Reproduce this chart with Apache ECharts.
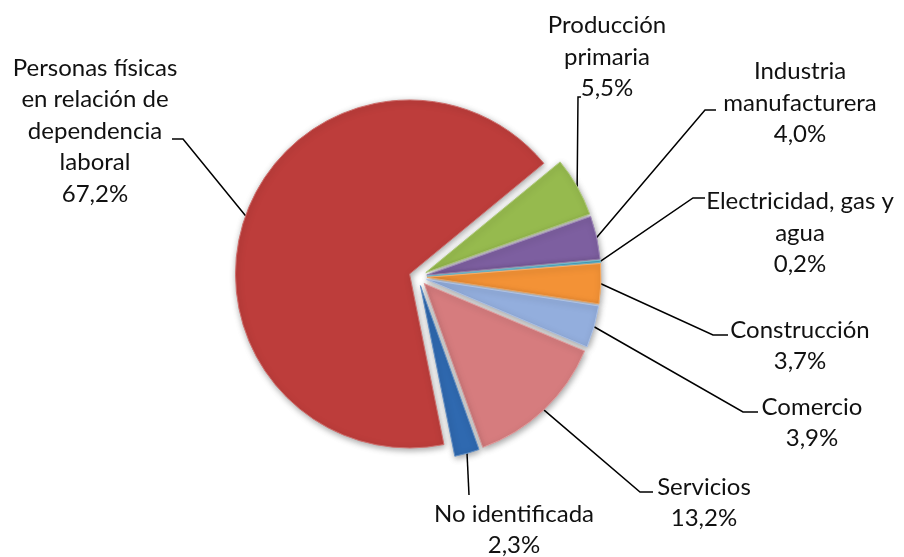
<!DOCTYPE html>
<html>
<head>
<meta charset="utf-8">
<script src="https://cdn.jsdelivr.net/npm/echarts@6/dist/echarts.min.js"></script>
<style>
  html, body { margin: 0; padding: 0; background: #fff; }
  #main { width: 904px; height: 557px; }
</style>
</head>
<body>
<div id="main"></div>
<script>
  // datos del gráfico (porcentajes)
  var categories = [
    'Personas físicas\nen relación de\ndependencia\nlaboral',
    'Producción\nprimaria',
    'Industria\nmanufacturera',
    'Electricidad, gas y\nagua',
    'Construcción',
    'Comercio',
    'Servicios',
    'No identificada'
  ];
  var values = [67.2, 5.5, 4.0, 0.2, 3.7, 3.9, 13.2, 2.3];
  var colors = ['#BD3D3B', '#96BA4E', '#7D5FA0', '#4BACC6', '#F39236', '#93AEDD', '#D67C7E', '#2F69B0'];

  // posición de etiquetas: [x centro, y centro, codo x, codo y, fin x]
  var labelSpots = [
    [95, 131, 183, 139, 172],
    [607, 57, 578, 97, 581],
    [800, 103, 705, 110, 716],
    [800, 233, 693, 198, 705],
    [800, 346, 713, 335, 728],
    [812, 423, 743, 412, 758],
    [704, 503, 640, 492, 653],
    [514, 530, 469, 495, 469]
  ];

  var CENTER = [418, 277];
  var RADIUS = 174;
  var EXPLODE = 9;

  function shade(hex, k) {
    var n = parseInt(hex.slice(1), 16);
    var r = (n >> 16) & 255, g = (n >> 8) & 255, b = n & 255;
    function f(c) { return Math.max(0, Math.min(255, Math.round(k > 0 ? c + (255 - c) * k : c * (1 + k)))); }
    return 'rgb(' + f(r) + ',' + f(g) + ',' + f(b) + ')';
  }

  // sectores (separados)
  var pieData = values.map(function (v, i) {
    return {
      value: v,
      name: categories[i],
      selected: true,
      itemStyle: {
        color: colors[i],
        borderColor: shade(colors[i], 0.25),
        borderWidth: 1
      }
    };
  });

  // capa transparente que lleva las etiquetas
  var labelData = values.map(function (v, i) {
    return { value: v, name: categories[i] };
  });

  var myChart = echarts.init(document.getElementById('main'));
  var option = {
    backgroundColor: '#fff',
    animation: false,
    series: [{
      type: 'pie',
      center: CENTER,
      radius: [0, RADIUS],
      startAngle: 281.4,
      selectedMode: 'multiple',
      selectedOffset: EXPLODE,
      silent: true,
      itemStyle: {
        shadowBlur: 6,
        shadowColor: 'rgba(0,0,0,0.35)',
        shadowOffsetX: 1,
        shadowOffsetY: 2
      },
      label: { show: false },
      labelLine: { show: false },
      emphasis: { disabled: true },
      data: pieData
    }, {
      type: 'pie',
      center: CENTER,
      radius: [0, RADIUS],
      startAngle: 281.4,
      silent: true,
      avoidLabelOverlap: false,
      itemStyle: { color: 'rgba(0,0,0,0)' },
      label: {
        show: true,
        position: 'outside',
        formatter: function (p) {
          return p.name + '\n' + p.value.toFixed(1).replace('.', ',') + '%';
        },
        color: '#111',
        fontFamily: 'Lato',
        fontSize: 24,
        lineHeight: 31.5,
        align: 'center'
      },
      labelLine: {
        show: true,
        length: 20,
        length2: 10,
        lineStyle: { color: '#000', width: 1.5 }
      },
      labelLayout: function (params) {
        var s = labelSpots[params.dataIndex];
        var p0 = params.labelLinePoints[0];
        var dx = p0[0] - CENTER[0], dy = p0[1] - CENTER[1];
        var d = Math.sqrt(dx * dx + dy * dy) || 1;
        var a = [p0[0] + EXPLODE * dx / d, p0[1] + EXPLODE * dy / d];
        return {
          x: s[0],
          y: s[1],
          align: 'center',
          verticalAlign: 'middle',
          labelLinePoints: [a, [s[2], s[3]], [s[4], s[3]]]
        };
      },
      emphasis: { disabled: true },
      data: labelData
    }]
  };
  myChart.setOption(option);
</script>
</body>
</html>
